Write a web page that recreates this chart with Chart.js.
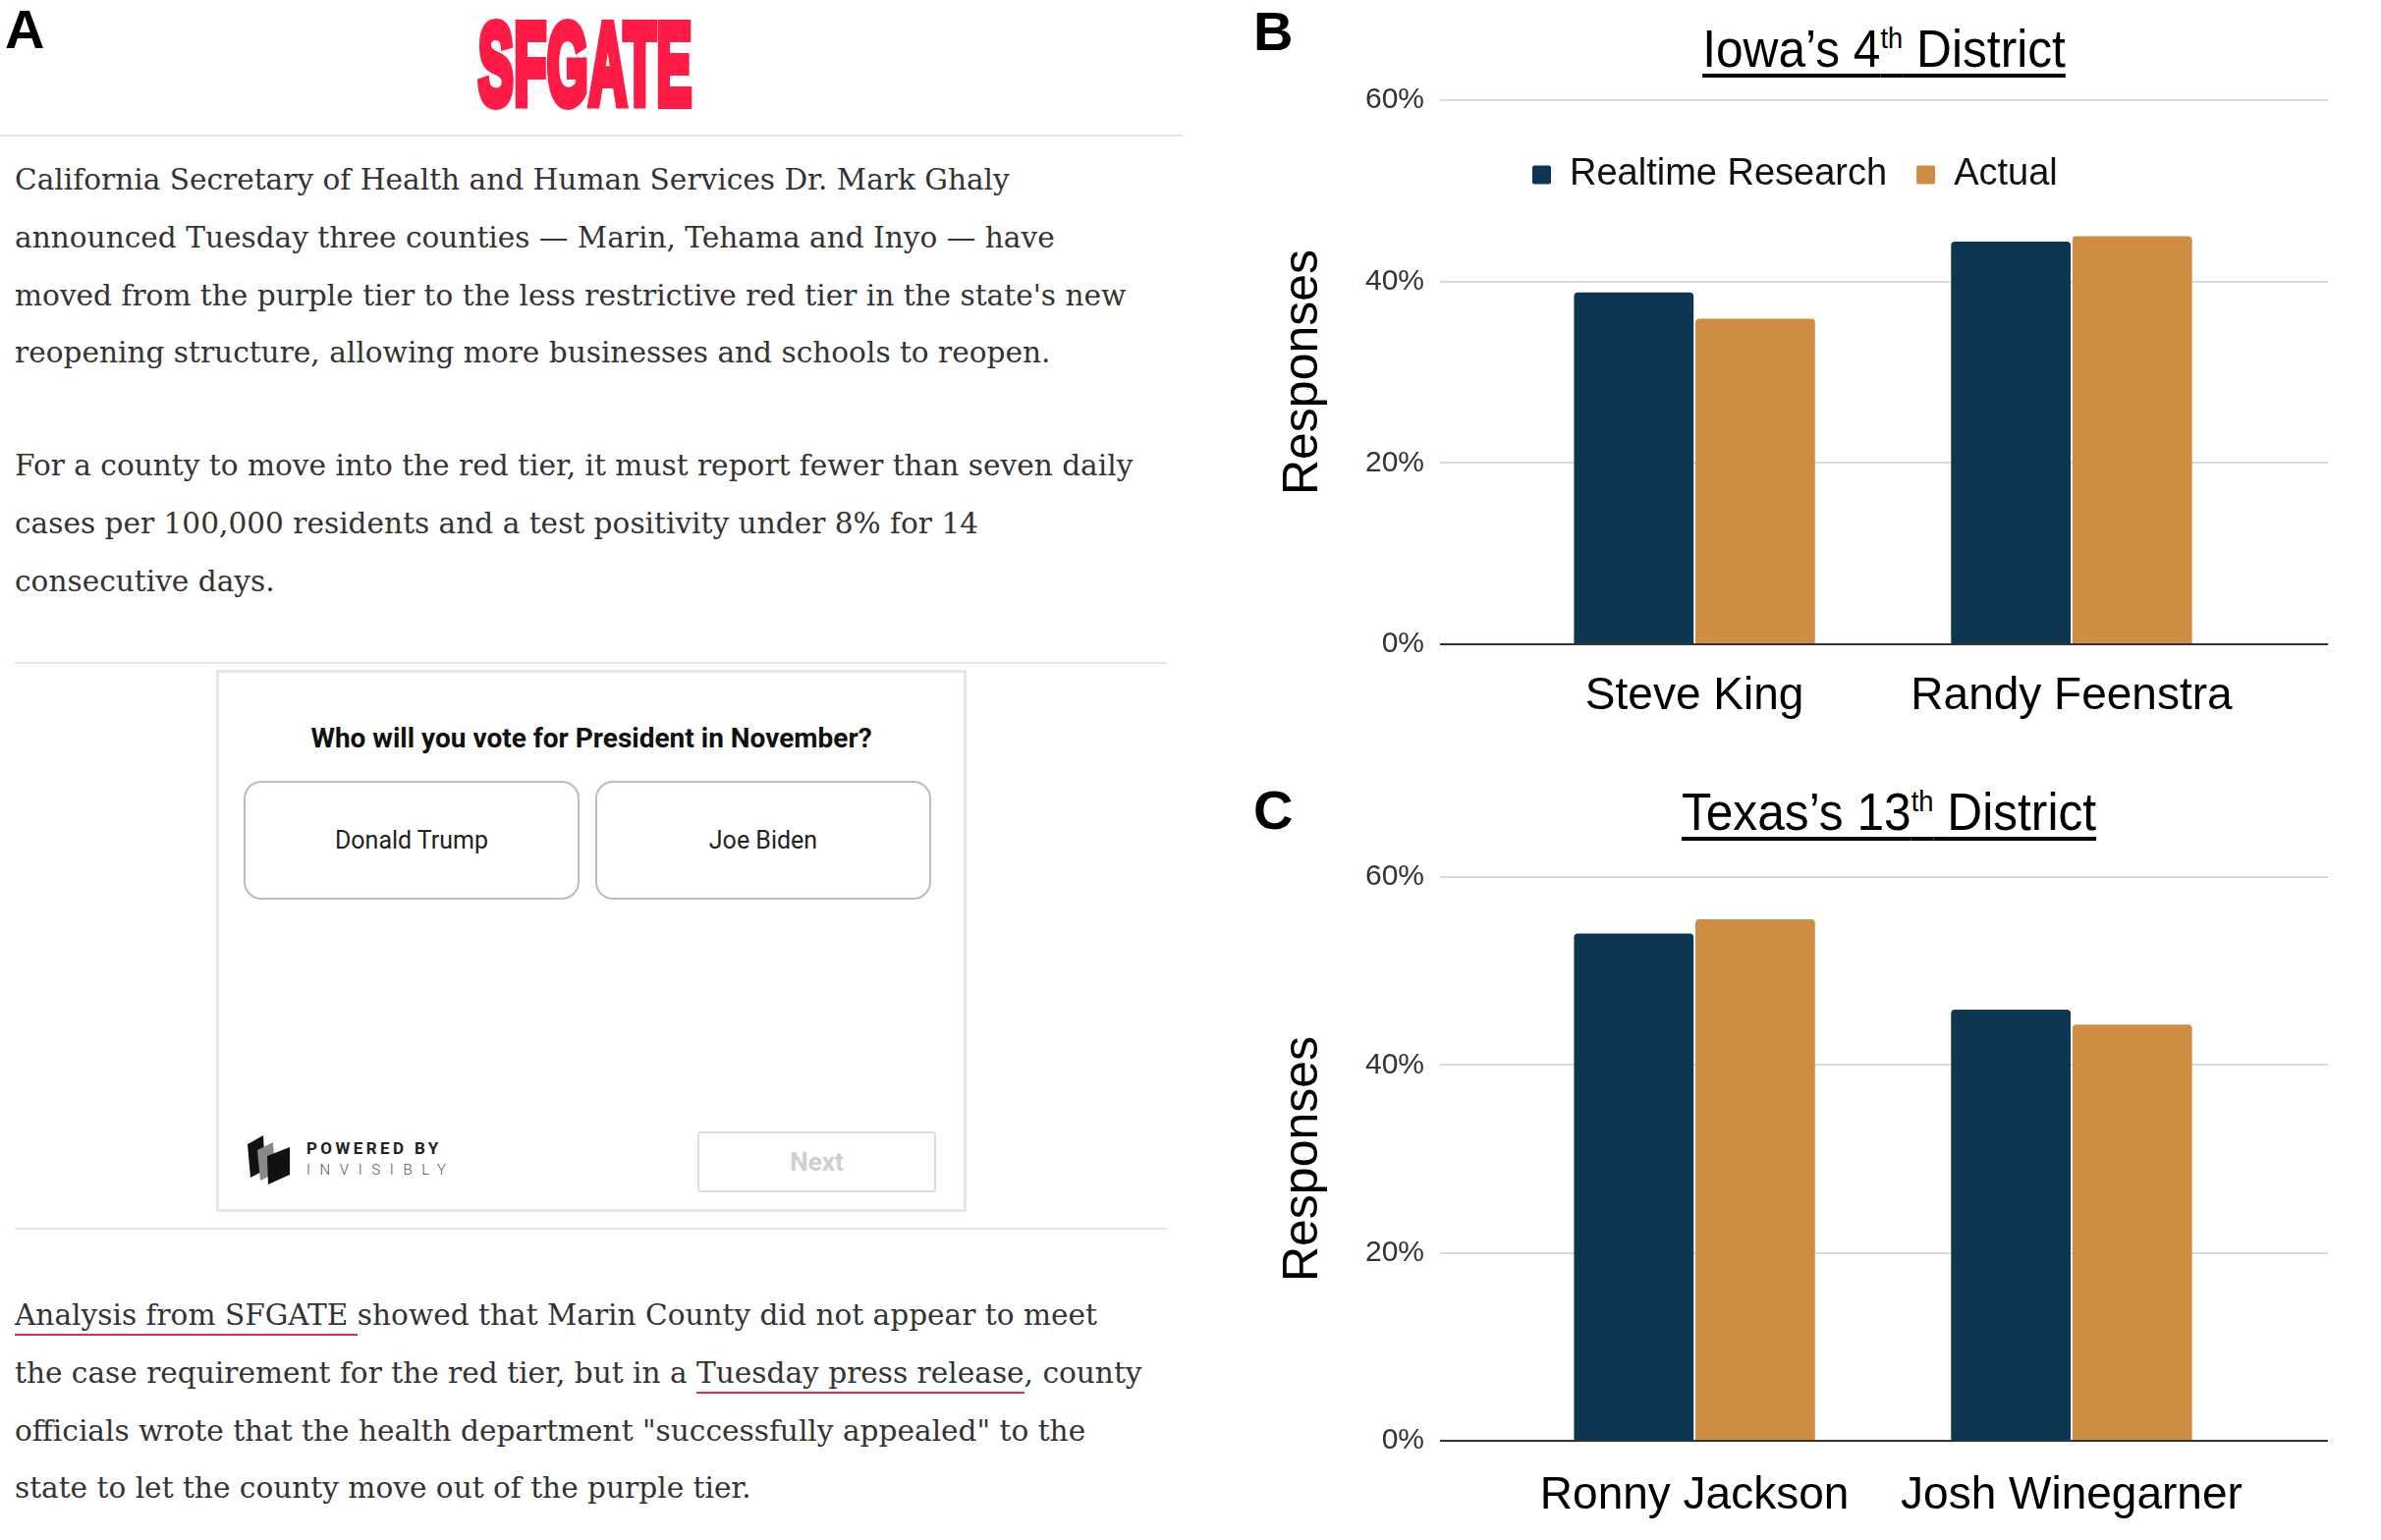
<!DOCTYPE html>
<html lang="en">
<head>
<meta charset="UTF-8">
<title>Realtime Research vs Actual</title>
<script src="https://cdn.jsdelivr.net/npm/chart.js"></script>
<style>
  body { margin: 0; background: #fff; }
  #page { position: relative; width: 2424px; height: 1568px; overflow: hidden; background: #fff; }
  .abs { position: absolute; }
  .letter { font-family: "Liberation Sans", Arial, sans-serif; font-weight: bold; font-size: 56px; line-height: 1; color: #000; }
  .logo { left: 487px; top: 8px; width: 220px; height: 110px; overflow: visible; }
  .logo span { display: inline-block; font-family: "Liberation Sans", Arial, sans-serif; font-weight: bold; font-size: 116px; line-height: 1;
    color: #fe1c46; -webkit-text-stroke: 10px #fe1c46; transform-origin: left top; transform: scaleX(0.46); letter-spacing: 2px; }
  .rule { height: 0; border-top: 2px solid #e6e6e6; }
  .para { left: 15px; font-family: "DejaVu Serif", serif; font-size: 29.6px; line-height: 58.8px; color: #333; white-space: nowrap; }
  .para u { text-decoration: none; border-bottom: 2px solid #e8294f; padding-bottom: 2px; }
  .poll { left: 220px; top: 682px; width: 758px; height: 546px; border: 3px solid #e6e6e6; }
  .q { left: 0; width: 758px; top: 50px; text-align: center; font-family: Roboto, sans-serif; font-weight: 700; font-size: 28px; color: #111; }
  .btn { top: 110px; width: 342px; height: 121px; border: 2px solid #bdbdbd; border-radius: 18px; font-family: Roboto, sans-serif;
    font-size: 25px; color: #222; display: flex; align-items: center; justify-content: center; box-sizing: border-box; }
  .next { left: 487px; top: 467px; width: 243px; height: 62px; border: 2px solid #dcdcdc; border-radius: 3px; box-sizing: border-box;
    font-family: Roboto, sans-serif; font-weight: 700; font-size: 26px; color: #cfcfcf; display: flex; align-items: center; justify-content: center; }
  .pw { left: 89px; top: 474px; font-family: Roboto, sans-serif; font-weight: 700; font-size: 17px; letter-spacing: 3.4px; color: #222; }
  .inv { left: 89px; top: 497px; font-family: Roboto, sans-serif; font-weight: 300; font-size: 15px; letter-spacing: 9.6px; color: #555; }
  .ctitle { width: 800px; text-align: center; font-family: "Liberation Sans", Arial, sans-serif; font-size: 54px; line-height: 1; color: #000;
    transform: scaleX(0.92); }
  .ctitle span { text-decoration: underline; text-decoration-thickness: 4px; text-underline-offset: 7px; }
  .ctitle sup { font-size: 0.55em; line-height: 0; }
  canvas { position: absolute; }
</style>
</head>
<body>
<div id="page">
  <!-- panel A : article screenshot -->
  <div class="abs letter" style="left:5px; top:2px;">A</div>
  <div class="abs logo"><span>SFGATE</span></div>
  <div class="abs rule" style="left:0; top:137px; width:1204px;"></div>

  <div class="abs para" style="top:154px;">
    California Secretary of Health and Human Services Dr. Mark Ghaly<br>
    announced Tuesday three counties — Marin, Tehama and Inyo — have<br>
    moved from the purple tier to the less restrictive red tier in the state's new<br>
    reopening structure, allowing more businesses and schools to reopen.
  </div>
  <div class="abs para" style="top:445px;">
    For a county to move into the red tier, it must report fewer than seven daily<br>
    cases per 100,000 residents and a test positivity under 8% for 14<br>
    consecutive days.
  </div>

  <div class="abs rule" style="left:15px; top:674px; width:1173px;"></div>
  <div class="abs poll">
    <div class="abs q">Who will you vote for President in November?</div>
    <div class="abs btn" style="left:25px;">Donald Trump</div>
    <div class="abs btn" style="left:383px;">Joe Biden</div>
    <svg class="abs" style="left:27px; top:468px;" width="48" height="54" viewBox="0 0 48 54">
      <polygon points="2,12 18,3 20,38 5,46" fill="#111"/>
      <polygon points="12,18 28,10 30,42 15,49" fill="#8a8a8a"/>
      <polygon points="22,24 45,15 45,43 23,53" fill="#111"/>
    </svg>
    <div class="abs pw">POWERED BY</div>
    <div class="abs inv">INVISIBLY</div>
    <div class="abs next">Next</div>
  </div>
  <div class="abs rule" style="left:15px; top:1250px; width:1173px;"></div>

  <div class="abs para" style="top:1310px;">
    <u>Analysis from SFGATE </u>showed that Marin County did not appear to meet<br>
    the case requirement for the red tier, but in a <u>Tuesday press release</u>, county<br>
    officials wrote that the health department "successfully appealed" to the<br>
    state to let the county move out of the purple tier.
  </div>

  <!-- panels B and C -->
  <div class="abs letter" style="left:1276px; top:4px;">B</div>
  <div class="abs ctitle" style="left:1518px; top:22px;"><span>Iowa’s 4<sup>th</sup> District</span></div>
  <canvas id="iowaChart" width="1127" height="760" style="left:1297px; top:0;"></canvas>

  <div class="abs letter" style="left:1276px; top:797px;">C</div>
  <div class="abs ctitle" style="left:1523px; top:799px;"><span>Texas’s 13<sup>th</sup> District</span></div>
  <canvas id="texasChart" width="1127" height="788" style="left:1297px; top:780px;"></canvas>
</div>

<script>
  // données
  const seriesNames = ['Realtime Research', 'Actual'];
  const iowaCandidates = ['Steve King', 'Randy Feenstra'];
  const iowaRealtime = [38.8, 44.4];
  const iowaActual = [35.9, 45.0];
  const texasCandidates = ['Ronny Jackson', 'Josh Winegarner'];
  const texasRealtime = [54.0, 45.9];
  const texasActual = [55.5, 44.3];
  const yTicks = [0, 20, 40, 60];

  const navy = '#0c3651';
  const orange = '#cf8d44';
  const sans = '"Liberation Sans", Arial, sans-serif';

  // move the legend inside the plot area (it sits under the 60% line)
  const legendNudge = {
    id: 'legendNudge',
    afterLayout(chart, args, opts) {
      const l = chart.legend;
      if (!l || !l.options.display) return;
      const pad = l.options.labels.padding;
      const size = l.options.labels.font.size;
      const dx = chart.chartArea.left + opts.x - (l.left + pad);
      const dy = chart.chartArea.top + opts.y - (l.top + pad + size / 2);
      l.left += dx; l.right += dx;
      l.top += dy; l.bottom += dy;
    }
  };

  function makeChart(id, names, realtime, actual, cfg) {
    const ctx = document.getElementById(id).getContext('2d');
    return new Chart(ctx, {
      type: 'bar',
      data: {
        datasets: [
          { label: seriesNames[0], data: realtime.map((v, i) => ({ x: i, y: v })), backgroundColor: navy, borderWidth: 0, borderRadius: 4 },
          { label: seriesNames[1], data: actual.map((v, i) => ({ x: i, y: v })), backgroundColor: orange, borderWidth: 0, borderRadius: 4 }
        ]
      },
      plugins: [legendNudge],
      options: {
        responsive: false,
        animation: false,
        categoryPercentage: 0.644,
        barPercentage: 0.985,
        layout: { padding: { top: cfg.padTop, right: 54, bottom: 0, left: 0 } },
        plugins: {
          tooltip: { enabled: false },
          legend: {
            display: cfg.legend,
            position: 'top',
            align: 'start',
            labels: {
              boxWidth: 19, boxHeight: 19, padding: 30, color: '#111',
              useBorderRadius: true, borderRadius: 2,
              font: { family: sans, size: 38 }
            }
          },
          legendNudge: { x: 94, y: 76 }
        },
        scales: {
          x: {
            // numeric axis so the two groups can sit closer than a full category apart
            type: 'linear',
            min: -0.675,
            max: 1.68,
            bounds: 'data',
            offset: false,
            afterBuildTicks: s => { s.ticks = names.map((n, i) => ({ value: i })); },
            afterFit: s => { s.height = cfg.xHeight; },
            grid: { display: false, drawTicks: false, offset: false },
            border: { display: false },
            ticks: {
              autoSkip: false, maxRotation: 0, padding: cfg.xPad, color: '#000',
              font: { family: sans, size: 46 },
              callback: v => names[v]
            }
          },
          y: {
            min: 0,
            max: 60,
            afterBuildTicks: s => { s.ticks = yTicks.map(v => ({ value: v })); },
            afterFit: s => { s.width = 169; },
            grid: {
              drawTicks: false,
              color: c => c.tick && c.tick.value === 0 ? '#333' : '#d9d9d9',
              lineWidth: 2
            },
            border: { display: false },
            ticks: {
              padding: 16, color: '#333',
              font: { family: sans, size: 30 },
              callback: v => v + '%'
            },
            title: {
              display: true, text: 'Responses', color: '#000', padding: 0,
              font: { family: sans, size: 50 }
            }
          }
        }
      }
    });
  }

  makeChart('iowaChart', iowaCandidates, iowaRealtime, iowaActual, { legend: true, padTop: 24, xHeight: 104, xPad: 26 });
  makeChart('texasChart', texasCandidates, texasRealtime, texasActual, { legend: false, padTop: 113, xHeight: 101, xPad: 29 });
</script>
</body>
</html>
